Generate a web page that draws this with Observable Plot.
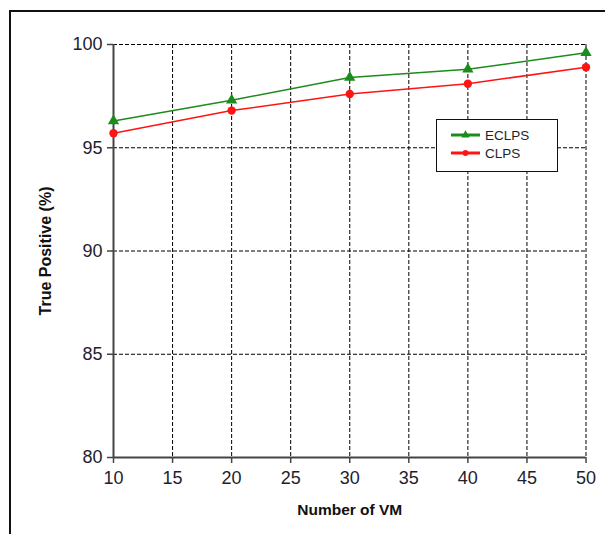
<!DOCTYPE html>
<html><head><meta charset="utf-8">
<script src="https://cdn.jsdelivr.net/npm/d3@7"></script>
<script src="https://cdn.jsdelivr.net/npm/@observablehq/plot@0.6"></script>
<style>
html,body{margin:0;padding:0;background:#fff;overflow:hidden;width:605px;height:534px;}
#wrap{position:relative;width:605px;height:534px;overflow:hidden;}
#frame{position:absolute;left:9px;top:10px;width:700px;height:700px;border:2px solid #111;box-sizing:border-box;}
#chart{position:absolute;left:0;top:0;}
#legend{position:absolute;left:436px;top:119px;width:122px;height:53px;border:1.5px solid #111;background:#fff;box-sizing:border-box;}
#legend svg{display:block;}
</style></head><body>
<div id="wrap"><div id="frame"></div><div id="chart"></div><div id="legend"></div></div>
<script>
const vms = [10, 20, 30, 40, 50];
const eclps = [96.3, 97.3, 98.4, 98.8, 99.6];
const clps = [95.7, 96.8, 97.6, 98.1, 98.9];
const seriesNames = ["ECLPS", "CLPS"];
const seriesColors = ["#1c8c1c", "#ff1414"];
const seriesSymbols = ["triangle", "circle"];
const xTicks = [10, 15, 20, 25, 30, 35, 40, 45, 50];
const yTicks = [80, 85, 90, 95, 100];
const xTitle = "Number of VM";
const yTitle = "True Positive (%)";

const rows = [];
[eclps, clps].forEach((vals, si) => vals.forEach((v, i) => rows.push({x: vms[i], y: v, s: seriesNames[si]})));

const font = "'Liberation Sans', Arial, sans-serif";
const plot = Plot.plot({
  width: 605, height: 534,
  marginLeft: 113, marginRight: 19.5, marginTop: 44, marginBottom: 77,
  style: {background: "none", fontFamily: font, fontSize: "18px", color: "#1e1e2e", overflow: "visible"},
  x: {domain: [10, 50]},
  y: {domain: [80, 100]},
  color: {domain: seriesNames, range: seriesColors},
  symbol: {domain: seriesNames, range: seriesSymbols},
  marks: [
    Plot.ruleY(yTicks.filter(d => d > 80), {stroke: "#000", strokeWidth: 1, strokeDasharray: "4,2"}),
    Plot.ruleX(xTicks.filter(d => d > 10), {stroke: "#000", strokeWidth: 1, strokeDasharray: "4,2"}),
    Plot.ruleX([10], {stroke: "#444", strokeWidth: 2}),
    Plot.ruleY([80], {stroke: "#444", strokeWidth: 2}),
    Plot.axisX({ticks: xTicks, tickSize: 6, tickPadding: 8, stroke: "#444", strokeWidth: 1.5, label: null, letterSpacing: -0.5}),
    Plot.axisY({ticks: yTicks, tickSize: 6, tickPadding: 5, stroke: "#444", strokeWidth: 1.5, label: null, letterSpacing: -0.5}),
    Plot.line(rows, {x: "x", y: "y", z: "s", stroke: "s", strokeWidth: 1.5}),
    Plot.dot(rows, {x: "x", y: "y", fill: "s", symbol: "s", r: 4.2, stroke: null}),
    Plot.text([xTitle], {frameAnchor: "bottom", dy: 53, text: d => d, fontSize: 15.5, fontWeight: "bold", fill: "#111", lineAnchor: "middle", textAnchor: "middle"}),
    Plot.text([yTitle], {frameAnchor: "left", dx: -68, text: d => d, rotate: -90, fontSize: 16, fontWeight: "bold", fill: "#111", lineAnchor: "middle", textAnchor: "middle"})
  ]
});
document.getElementById("chart").appendChild(plot);

// legend
const lg = d3.select("#legend").append("svg").attr("width", 119).attr("height", 50);
seriesNames.forEach((name, i) => {
  const y = 15 + i * 18;
  const g = lg.append("g");
  g.append("line").attr("x1", 14).attr("x2", 43).attr("y1", y).attr("y2", y)
    .attr("stroke", seriesColors[i]).attr("stroke-width", 3);
  const sym = d3.symbol(i === 0 ? d3.symbolTriangle : d3.symbolCircle, i === 0 ? 30 : 26);
  g.append("path").attr("d", sym()).attr("transform", `translate(28.5,${y})`).attr("fill", seriesColors[i]);
  g.append("text").attr("x", 48).attr("y", y).attr("dy", "0.35em")
    .attr("font-family", font).attr("font-size", 13.5).attr("fill", "#1e1e2e").text(name);
});
</script>
</body></html>
